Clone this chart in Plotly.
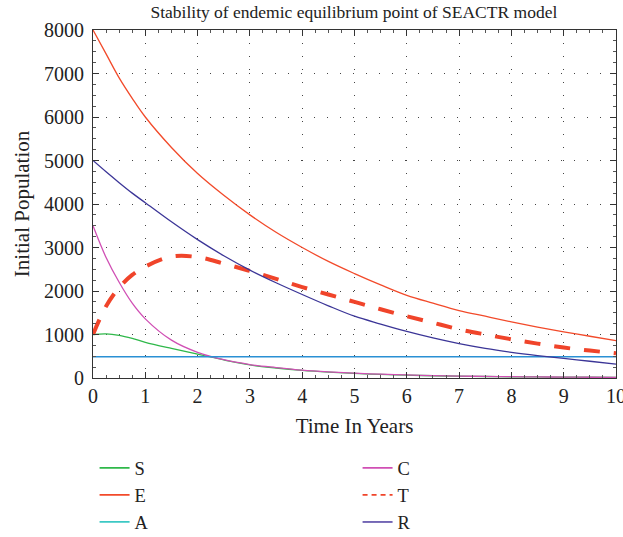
import plotly.graph_objects as go

t = [0, 0.25, 0.5, 0.75, 1, 1.5, 2, 2.5, 3, 3.5, 4, 4.5, 5, 5.5, 6, 6.5, 7, 7.5, 8, 8.5, 9, 9.5, 10]

S = [1000, 1015, 980, 910, 820, 680, 550, 415, 300, 230, 175, 135, 105, 82, 65, 52, 42, 35, 28, 24, 20, 17, 14]
E = [8000, 7450, 6900, 6430, 6000, 5300, 4700, 4200, 3750, 3350, 3000, 2680, 2400, 2140, 1900, 1720, 1550, 1420, 1290, 1170, 1060, 960, 860]
A = [490] * len(t)
C = [3500, 2770, 2200, 1720, 1360, 870, 590, 420, 310, 240, 180, 140, 110, 88, 70, 56, 45, 37, 30, 25, 20, 17, 15]
T = [1000, 1650, 2080, 2370, 2560, 2790, 2780, 2630, 2460, 2280, 2090, 1920, 1750, 1580, 1420, 1270, 1120, 1000, 890, 790, 700, 630, 570]
R = [5000, 4740, 4490, 4250, 4030, 3590, 3180, 2810, 2480, 2190, 1920, 1660, 1420, 1240, 1070, 920, 790, 680, 590, 515, 450, 385, 320]

names = ["S", "C", "E", "T", "A", "R"]
series = {"S": S, "C": C, "E": E, "T": T, "A": A, "R": R}
colors = {"S": "#2fb84a", "C": "#d04fb4", "E": "#f24a2a", "T": "#f0442a", "A": "#2a90d4", "R": "#3b3597"}
legend_colors = {"S": "#2fb84a", "C": "#d04fb4", "E": "#f24a2a", "T": "#f0442a", "A": "#3cc8c4", "R": "#6a5cb0"}
widths = {"S": 1.3, "C": 1.3, "E": 1.3, "T": 4, "A": 1.6, "R": 1.3}
dashes = {"S": "solid", "C": "solid", "E": "solid", "T": "16px,14px", "A": "solid", "R": "solid"}

fig = go.Figure()
for i, n in enumerate(names):
    fig.add_trace(go.Scatter(
        x=t, y=series[n], mode="lines", name=n, line_shape="spline", showlegend=False,
        line=dict(color=colors[n], width=widths[n], dash=dashes[n]),
    ))
# legend entries (thin symbols, as in the reference legend)
for i, n in enumerate(names):
    fig.add_trace(go.Scatter(
        x=[None], y=[None], mode="lines", name=n, legendrank=i + 1, hoverinfo="skip",
        line=dict(color=legend_colors[n], width=1.8, dash="5px,4px" if n == "T" else "solid"),
    ))

font = "Liberation Serif, DejaVu Serif, serif"
axis_common = dict(
    showline=True, linecolor="#333333", linewidth=1.2, mirror="ticks",
    ticks="inside", ticklen=6, tickcolor="#333333",
    showgrid=True, gridcolor="#444444", gridwidth=1, griddash="1px,12px",
    zeroline=False, automargin=False, ticklabeloverflow="allow",
    tickfont=dict(family=font, size=20, color="#222222"),
    minor=dict(ticks="inside", ticklen=3, tickcolor="#555555", showgrid=False),
)

fig.update_layout(
    width=623, height=537,
    margin=dict(l=93, r=7, t=30, b=159, autoexpand=False),
    paper_bgcolor="white", plot_bgcolor="white",
    font=dict(family=font, color="#222222"),
    title=dict(text="Stability of endemic equilibrium point of SEACTR model",
               x=0.568, xanchor="center", y=0.978, yanchor="middle",
               font=dict(family=font, size=17.5, color="#222222")),
    xaxis=dict(range=[0, 10], dtick=1, title=dict(text="Time In Years", standoff=12,
               font=dict(family=font, size=21)), **axis_common),
    yaxis=dict(range=[0, 8000], dtick=1000, ticklabelstandoff=4,
               title=dict(text="Initial Population", standoff=8,
               font=dict(family=font, size=21)), **axis_common),
    showlegend=True,
    legend=dict(orientation="h", x=0.003, xanchor="left", y=-0.205, yanchor="top",
                entrywidth=218, entrywidthmode="pixels", traceorder="normal",
                font=dict(family=font, size=18.5, color="#222222"),
                bgcolor="rgba(0,0,0,0)", itemwidth=30, tracegroupgap=0),
)
fig.update_xaxes(minor=dict(dtick=0.25))
fig.update_yaxes(minor=dict(dtick=250))

fig.write_html("out.html", config={"displayModeBar": False},
               post_script="document.documentElement.style.margin='0';document.body.style.margin='0';")
